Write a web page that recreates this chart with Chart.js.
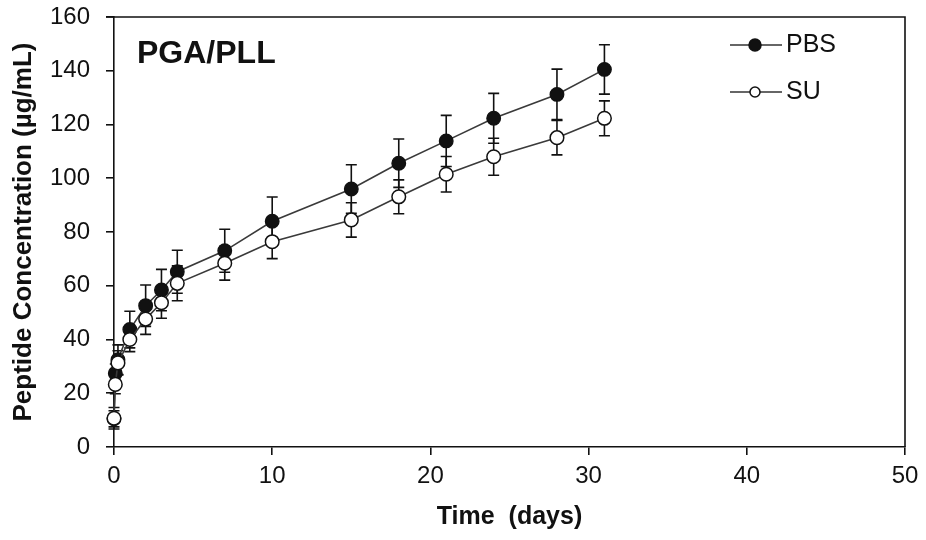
<!DOCTYPE html>
<html><head><meta charset="utf-8">
<script src="https://cdn.jsdelivr.net/npm/chart.js@4/dist/chart.umd.min.js"></script>
<style>html,body{margin:0;padding:0;background:#fff}</style>
</head><body>
<canvas id="c" width="926" height="540" style="width:926px;height:540px;display:block"></canvas>
<script>
// ---- data ----
const timeDays  = [0, 0.083, 0.25, 1, 2, 3, 4, 7, 10, 15, 18, 21, 24, 28, 31];
const pbsValues = [10.5, 27.4, 32.5, 43.7, 52.6, 58.4, 65.2, 73.0, 84.0, 96.0, 105.6, 113.9, 122.3, 131.2, 140.5];
const pbsErrors = [3.0, 3.5, 5.5, 6.8, 7.7, 7.7, 8.0, 8.0, 9.0, 9.0, 9.0, 9.5, 9.3, 9.4, 9.2];
const suValues  = [10.7, 23.3, 31.3, 40.0, 47.6, 53.7, 60.9, 68.4, 76.4, 84.5, 93.1, 101.5, 108.0, 115.1, 122.3];
const suErrors  = [4.0, 3.5, 4.5, 4.5, 5.7, 5.8, 6.5, 6.3, 6.3, 6.4, 6.3, 6.6, 6.9, 6.4, 6.5];
const xTickValues = [0, 10, 20, 30, 40, 50];
const yTickValues = [0, 20, 40, 60, 80, 100, 120, 140, 160];
const seriesNames = ['PBS', 'SU'];
const panelLabel = 'PGA/PLL';
const xTitle = 'Time  (days)';
const yTitle = 'Peptide Concentration (\u00b5g/mL)';

const FONT = '"Liberation Sans", Arial, sans-serif';
const INK = '#111';

function pts(vals, errs) {
  return timeDays.map((t, i) => ({ x: t, y: vals[i], e: errs[i] }));
}

const errorBars = {
  id: 'errorBars',
  beforeDatasetsDraw(chart) {
    const ctx = chart.ctx;
    const xs = chart.scales.x, ys = chart.scales.y;
    ctx.save();
    ctx.strokeStyle = INK;
    ctx.lineWidth = 1.6;
    chart.data.datasets.forEach(ds => {
      ds.data.forEach(p => {
        const px = xs.getPixelForValue(p.x);
        const top = ys.getPixelForValue(p.y + p.e);
        const bot = ys.getPixelForValue(p.y - p.e);
        ctx.beginPath();
        ctx.moveTo(px, top); ctx.lineTo(px, bot);
        ctx.moveTo(px - 5.5, top); ctx.lineTo(px + 5.5, top);
        ctx.moveTo(px - 5.5, bot); ctx.lineTo(px + 5.5, bot);
        ctx.stroke();
      });
    });
    ctx.restore();
  }
};

const frame = {
  id: 'frame',
  afterDraw(chart) {
    const ctx = chart.ctx, a = chart.chartArea;
    ctx.save();
    ctx.strokeStyle = INK;
    ctx.lineWidth = 1.6;
    ctx.beginPath();
    ctx.moveTo(a.left - 8, a.top); ctx.lineTo(a.right, a.top);
    ctx.lineTo(a.right, a.bottom);
    ctx.stroke();
    // panel label
    ctx.fillStyle = INK;
    ctx.font = 'bold 32px ' + FONT;
    ctx.textBaseline = 'alphabetic';
    ctx.textAlign = 'left';
    ctx.fillText(panelLabel, a.left + 23, 63);
    // legend
    ctx.font = '25px ' + FONT;
    ctx.textBaseline = 'middle';
    const rows = [{ y: 45, fill: INK, r: 6 }, { y: 92, fill: '#fff', r: 5 }];
    rows.forEach((row, i) => {
      ctx.strokeStyle = '#333';
      ctx.lineWidth = 1.5;
      ctx.beginPath(); ctx.moveTo(730, row.y); ctx.lineTo(782, row.y); ctx.stroke();
      ctx.beginPath(); ctx.arc(755, row.y, row.r, 0, Math.PI * 2);
      ctx.fillStyle = row.fill; ctx.fill();
      ctx.strokeStyle = INK; ctx.lineWidth = 1.5; ctx.stroke();
      ctx.fillStyle = INK;
      ctx.fillText(seriesNames[i], 786, row.y);
    });
    ctx.restore();
  }
};

new Chart(document.getElementById('c'), {
  type: 'scatter',
  data: {
    datasets: [
      {
        label: seriesNames[0], data: pts(pbsValues, pbsErrors), showLine: true,
        borderColor: '#3a3a3a', borderWidth: 1.6, pointRadius: 6.8, pointHoverRadius: 6.8,
        pointBackgroundColor: INK, pointBorderColor: INK, pointBorderWidth: 1.3,
        clip: false, order: 2
      },
      {
        label: seriesNames[1], data: pts(suValues, suErrors), showLine: true,
        borderColor: '#3a3a3a', borderWidth: 1.6, pointRadius: 6.8, pointHoverRadius: 6.8,
        pointBackgroundColor: '#fff', pointBorderColor: INK, pointBorderWidth: 1.5,
        clip: false, order: 1
      }
    ]
  },
  options: {
    responsive: false,
    animation: false,
    devicePixelRatio: 1,
    layout: { padding: { left: 0, right: 21, top: 17, bottom: 0 } },
    plugins: { legend: { display: false }, tooltip: { enabled: false } },
    scales: {
      x: {
        type: 'linear', min: 0, max: 50,
        afterBuildTicks: s => { s.ticks = xTickValues.map(v => ({ value: v })); },
        afterFit: s => { s.height = 93; s.paddingLeft = 0; s.paddingRight = 0; },
        grid: { display: true, drawOnChartArea: false, drawTicks: true, tickLength: 8, color: INK, lineWidth: 1.6 },
        border: { display: true, color: INK, width: 1.6 },
        ticks: { color: INK, font: { family: FONT, size: 24 }, padding: 7, maxRotation: 0 },
        title: { display: true, text: xTitle, color: INK, font: { family: FONT, size: 25, weight: 'bold' }, padding: { top: 0, bottom: 8 } }
      },
      y: {
        type: 'linear', min: 0, max: 160,
        afterBuildTicks: s => { s.ticks = yTickValues.map(v => ({ value: v })); },
        afterFit: s => { s.width = 114; s.paddingTop = 0; s.paddingBottom = 0; },
        grid: { display: true, drawOnChartArea: false, drawTicks: true, tickLength: 8, color: INK, lineWidth: 1.6 },
        border: { display: true, color: INK, width: 1.6 },
        ticks: { color: INK, font: { family: FONT, size: 24 }, padding: 16 },
        title: { display: true, text: yTitle, color: INK, font: { family: FONT, size: 26, weight: 'bold' }, padding: { top: 8, bottom: 0 } }
      }
    }
  },
  plugins: [errorBars, frame]
});
</script>
</body></html>
